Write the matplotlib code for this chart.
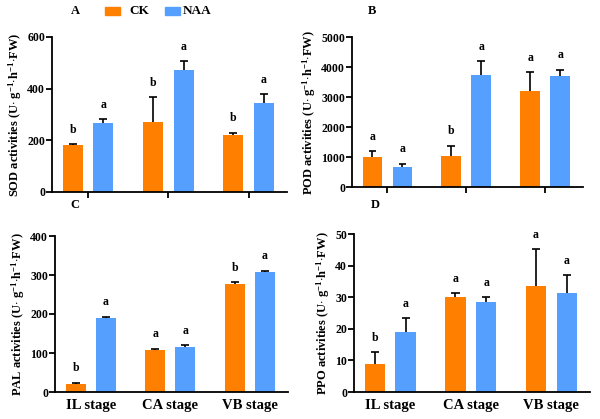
import numpy as np
import matplotlib.pyplot as plt

plt.rcParams['font.family'] = ['Liberation Serif', 'DejaVu Serif']
plt.rcParams['font.weight'] = 'bold'
plt.rcParams['mathtext.fontset'] = 'custom'
plt.rcParams['mathtext.rm'] = 'Liberation Serif:bold'
plt.rcParams['mathtext.bf'] = 'Liberation Serif:bold'
plt.rcParams['mathtext.default'] = 'bf'

stages = ['IL stage', 'CA stage', 'VB stage']

# SOD
sod_ck = [182, 272, 222]
sod_ck_err = [3, 95, 8]
sod_naa = [268, 474, 345]
sod_naa_err = [14, 32, 33]
sod_ck_sig = ['b', 'b', 'b']
sod_naa_sig = ['a', 'a', 'a']

# POD
pod_ck = [996, 1018, 3208]
pod_ck_err = [200, 365, 630]
pod_naa = [653, 3728, 3695]
pod_naa_err = [120, 476, 220]
pod_ck_sig = ['a', 'b', 'a']
pod_naa_sig = ['a', 'a', 'a']

# PAL
pal_ck = [21, 108, 276]
pal_ck_err = [3, 3, 6]
pal_naa = [190, 115, 307]
pal_naa_err = [3, 5, 4]
pal_ck_sig = ['b', 'a', 'b']
pal_naa_sig = ['a', 'a', 'a']

# PPO
ppo_ck = [9.0, 30.2, 33.7]
ppo_ck_err = [3.7, 1.0, 11.4]
ppo_naa = [19.0, 28.4, 31.2]
ppo_naa_err = [4.4, 1.6, 5.8]
ppo_ck_sig = ['b', 'a', 'a']
ppo_naa_sig = ['a', 'a', 'a']

c_ck = '#FF7F00'
c_naa = '#55A0FF'
W, H = 600, 419

fig = plt.figure(figsize=(6, 4.19), dpi=100)


def px_axes(l, r, t, b):
    return fig.add_axes([l / W, (H - b) / H, (r - l) / W, (b - t) / H])


def bars(ax, xs, vals, errs, sig, color, w):
    ax.bar(xs, vals, w, color=color, zorder=2)
    tops = np.array(vals) + np.array(errs)
    # upper error bars only
    ax.vlines(xs, vals, tops, color='black', lw=1.2, zorder=1)
    ax.hlines(tops, xs - 0.05, xs + 0.05, color='black', lw=1.2, zorder=1)
    for xi, t, s in zip(xs, tops, sig):
        ax.annotate(s, (xi, t), xytext=(0, 6), textcoords='offset points',
                    ha='center', va='bottom', fontsize=8.5, fontweight='bold')


def panel(ax, ck, ck_err, naa, naa_err, ck_sig, naa_sig, ymax, step, ylabel, xlabels):
    x = np.arange(len(stages))
    w = 0.25
    off = 0.19
    bars(ax, x - off, ck, ck_err, ck_sig, c_ck, w)
    bars(ax, x + off, naa, naa_err, naa_sig, c_naa, w)
    ax.set_xlim(-0.45, 2.48)
    ax.set_ylim(0, ymax)
    ax.set_yticks(np.arange(0, ymax + 1, step))
    ax.spines['top'].set_visible(False)
    ax.spines['right'].set_visible(False)
    ax.spines['left'].set_linewidth(1.3)
    ax.spines['bottom'].set_linewidth(1.3)
    ax.tick_params(axis='y', width=1.3, length=4, labelsize=8.5, pad=1)
    ax.set_ylabel(ylabel, fontsize=9, fontweight='bold', labelpad=2)
    ax.set_xticks(x)
    if xlabels:
        ax.set_xticklabels(stages, fontsize=10.5, fontweight='bold')
        ax.tick_params(axis='x', length=0, pad=5)
    else:
        ax.set_xticklabels([])
        ax.tick_params(axis='x', width=1.3, length=4)
    for lab in ax.get_yticklabels():
        lab.set_fontweight('bold')


unit = r'$\cdot$ g$^{-1}$$\cdot$h$^{-1}$$\cdot$FW)'
axA = px_axes(52, 287, 37, 192)
panel(axA, sod_ck, sod_ck_err, sod_naa, sod_naa_err, sod_ck_sig, sod_naa_sig,
      600, 200, 'SOD activities (U' + unit, False)
axB = px_axes(352, 583, 37, 187)
panel(axB, pod_ck, pod_ck_err, pod_naa, pod_naa_err, pod_ck_sig, pod_naa_sig,
      5000, 1000, 'POD activities (U' + unit, False)
axC = px_axes(55, 288, 236, 392)
panel(axC, pal_ck, pal_ck_err, pal_naa, pal_naa_err, pal_ck_sig, pal_naa_sig,
      400, 100, 'PAL activities (U' + unit, True)
axD = px_axes(354, 590, 234, 392)
panel(axD, ppo_ck, ppo_ck_err, ppo_naa, ppo_naa_err, ppo_ck_sig, ppo_naa_sig,
      50, 10, 'PPO activities (U' + unit, True)

for lbl, xp, yp in [('A', 75, 11), ('B', 372, 11), ('C', 75, 205), ('D', 375, 205)]:
    fig.text(xp / W, 1 - yp / H, lbl, fontsize=9, fontweight='bold', ha='center', va='center')

# legend
fig.patches.append(plt.Rectangle((105 / W, 1 - 15 / H), 15 / W, 8 / H, color=c_ck,
                                 transform=fig.transFigure, figure=fig))
fig.text(129 / W, 1 - 11 / H, 'CK', fontsize=9.5, fontweight='bold', va='center')
fig.patches.append(plt.Rectangle((165 / W, 1 - 15 / H), 15 / W, 8 / H, color=c_naa,
                                 transform=fig.transFigure, figure=fig))
fig.text(183 / W, 1 - 11 / H, 'NAA', fontsize=9.5, fontweight='bold', va='center')

fig.savefig('out.png', dpi=100)
